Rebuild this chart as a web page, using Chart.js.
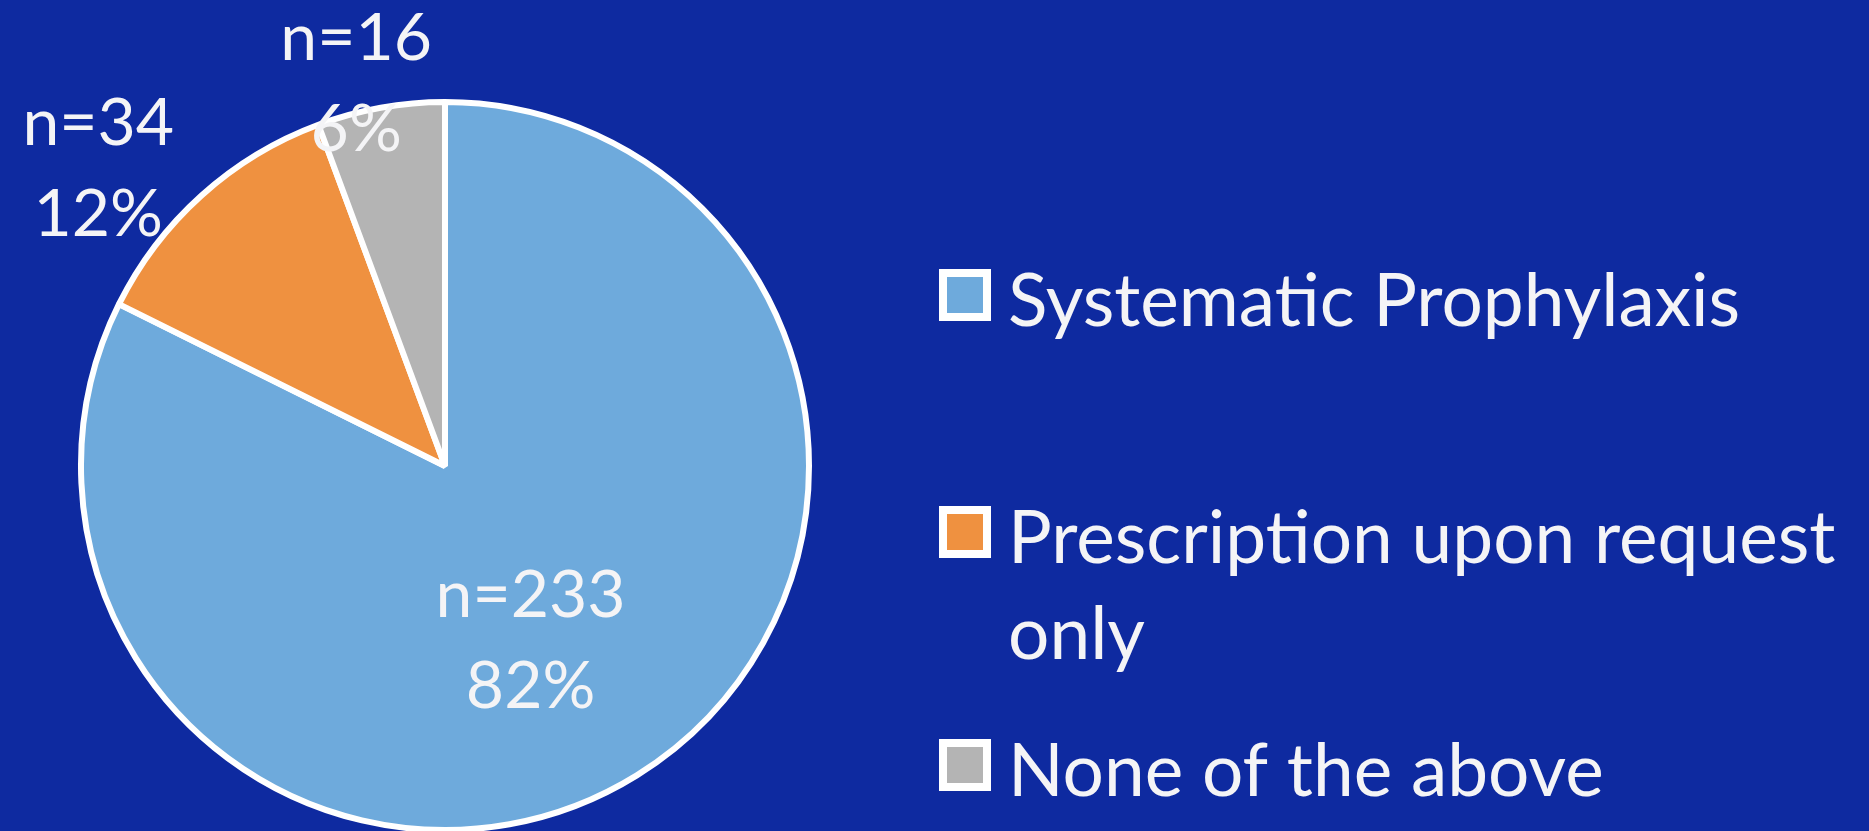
<!DOCTYPE html>
<html>
<head>
<meta charset="utf-8">
<script src="https://cdn.jsdelivr.net/npm/chart.js@4.4.1/dist/chart.umd.min.js"></script>
<style>
  html, body { margin: 0; padding: 0; background: #0E2AA0; }
  #wrap { position: relative; width: 1869px; height: 831px; overflow: hidden; }
  canvas { display: block; }
</style>
</head>
<body>
<div id="wrap"><canvas id="pie" width="1869" height="831"></canvas></div>
<script>
// Survey answers and their respondent counts
const categories = ["Systematic Prophylaxis", "Prescription upon request only", "None of the above"];
const counts = [233, 34, 16];
const percentLabels = ["82%", "12%", "6%"];
const sliceColors = ["#6EAADC", "#EF9140", "#B4B4B4"];

const FONT = "Lato, 'Open Sans', sans-serif";
const TEXT = "#F4F4F6";

// Two-line value labels ("n=…" / "…%"), placed along each slice's mid-angle
const labelRadial = [0.54, 1.26, 1.07];
const labelShift = [[-18, 8], [-40, 44], [-20, 1]];

const valueLabels = {
  id: 'valueLabels',
  afterDatasetsDraw(chart) {
    const ctx = chart.ctx;
    const arcs = chart.getDatasetMeta(0).data;
    ctx.save();
    ctx.font = "66px " + FONT;
    ctx.fillStyle = TEXT;
    ctx.textAlign = "center";
    ctx.textBaseline = "middle";
    arcs.forEach((arc, i) => {
      const mid = (arc.startAngle + arc.endAngle) / 2;
      const r = arc.outerRadius * labelRadial[i];
      const x = arc.x + Math.cos(mid) * r + labelShift[i][0];
      const y = arc.y + Math.sin(mid) * r + labelShift[i][1];
      ctx.fillText("n=" + counts[i], x, y - 45);
      ctx.fillText(percentLabels[i], x, y + 46);
    });
    ctx.restore();
  }
};

// Legend on the right: boxed swatch, label wrapped to the available width
const legendRight = {
  id: 'legendRight',
  afterDraw(chart) {
    const ctx = chart.ctx;
    const boxCX = 965, box = 44, textX = 1008, maxW = 855, lineH = 96;
    const rowY = [295, 532, 765];
    ctx.save();
    ctx.font = "73px " + FONT;
    ctx.textBaseline = "middle";
    ctx.textAlign = "left";
    categories.forEach((name, i) => {
      const cy = rowY[i];
      ctx.fillStyle = sliceColors[i];
      ctx.fillRect(boxCX - box / 2, cy - box / 2, box, box);
      ctx.strokeStyle = "#FFFFFF";
      ctx.lineWidth = 8;
      ctx.strokeRect(boxCX - box / 2, cy - box / 2, box, box);
      // word wrap
      const words = name.split(" ");
      const lines = [];
      let cur = "";
      words.forEach(w => {
        const t = cur ? cur + " " + w : w;
        if (ctx.measureText(t).width > maxW && cur) { lines.push(cur); cur = w; }
        else cur = t;
      });
      lines.push(cur);
      ctx.fillStyle = TEXT;
      lines.forEach((ln, k) => ctx.fillText(ln, textX, cy + 7 + k * lineH));
    });
    ctx.restore();
  }
};

new Chart(document.getElementById('pie'), {
  type: 'pie',
  data: {
    labels: categories,
    datasets: [{
      data: counts,
      backgroundColor: sliceColors,
      borderColor: "#FFFFFF",
      borderWidth: 6,
      clip: false
    }]
  },
  options: {
    responsive: false,
    animation: false,
    radius: 364,
    layout: { padding: { left: 0, right: 979, top: 101, bottom: 0 } },
    plugins: {
      legend: { display: false },
      tooltip: { enabled: false }
    }
  },
  plugins: [valueLabels, legendRight]
});
</script>
</body>
</html>
